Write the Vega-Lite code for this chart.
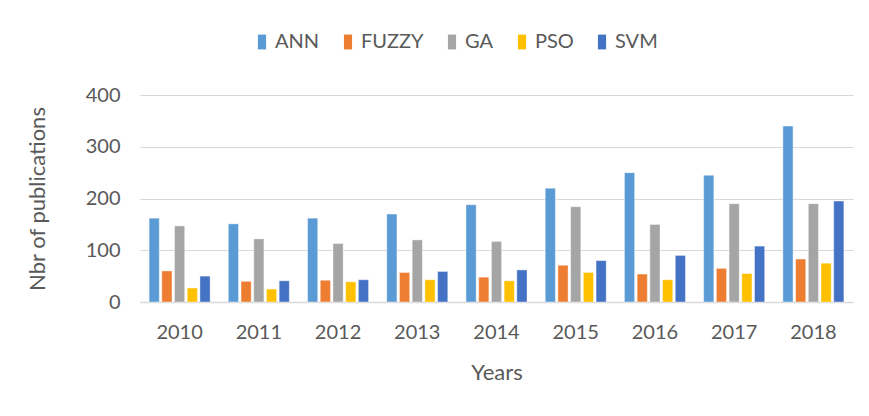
{
  "$schema": "https://vega.github.io/schema/vega-lite/v6.json",
  "width": 713,
  "height": 207,
  "autosize": {"type": "none"},
  "padding": {"left": 140, "top": 95, "right": 16, "bottom": 114},
  "background": "white",
  "config": {
    "view": {"stroke": null},
    "font": "Lato",
    "axis": {"labelColor": "#595959", "titleColor": "#595959", "labelFont": "Lato", "titleFont": "Lato", "titleFontWeight": "normal"},
    "legend": {"labelFont": "Lato", "labelColor": "#595959"}
  },
  "data": {
    "values": [
      {"year": "2010", "method": "ANN", "n": 162}, {"year": "2010", "method": "FUZZY", "n": 60}, {"year": "2010", "method": "GA", "n": 147}, {"year": "2010", "method": "PSO", "n": 27}, {"year": "2010", "method": "SVM", "n": 50},
      {"year": "2011", "method": "ANN", "n": 151}, {"year": "2011", "method": "FUZZY", "n": 40}, {"year": "2011", "method": "GA", "n": 122}, {"year": "2011", "method": "PSO", "n": 25}, {"year": "2011", "method": "SVM", "n": 41},
      {"year": "2012", "method": "ANN", "n": 162}, {"year": "2012", "method": "FUZZY", "n": 42}, {"year": "2012", "method": "GA", "n": 113}, {"year": "2012", "method": "PSO", "n": 39}, {"year": "2012", "method": "SVM", "n": 43},
      {"year": "2013", "method": "ANN", "n": 170}, {"year": "2013", "method": "FUZZY", "n": 57}, {"year": "2013", "method": "GA", "n": 120}, {"year": "2013", "method": "PSO", "n": 43}, {"year": "2013", "method": "SVM", "n": 59},
      {"year": "2014", "method": "ANN", "n": 188}, {"year": "2014", "method": "FUZZY", "n": 48}, {"year": "2014", "method": "GA", "n": 117}, {"year": "2014", "method": "PSO", "n": 41}, {"year": "2014", "method": "SVM", "n": 62},
      {"year": "2015", "method": "ANN", "n": 220}, {"year": "2015", "method": "FUZZY", "n": 71}, {"year": "2015", "method": "GA", "n": 184}, {"year": "2015", "method": "PSO", "n": 57}, {"year": "2015", "method": "SVM", "n": 80},
      {"year": "2016", "method": "ANN", "n": 250}, {"year": "2016", "method": "FUZZY", "n": 54}, {"year": "2016", "method": "GA", "n": 150}, {"year": "2016", "method": "PSO", "n": 43}, {"year": "2016", "method": "SVM", "n": 90},
      {"year": "2017", "method": "ANN", "n": 245}, {"year": "2017", "method": "FUZZY", "n": 65}, {"year": "2017", "method": "GA", "n": 190}, {"year": "2017", "method": "PSO", "n": 55}, {"year": "2017", "method": "SVM", "n": 108},
      {"year": "2018", "method": "ANN", "n": 340}, {"year": "2018", "method": "FUZZY", "n": 83}, {"year": "2018", "method": "GA", "n": 190}, {"year": "2018", "method": "PSO", "n": 75}, {"year": "2018", "method": "SVM", "n": 195}
    ]
  },
  "mark": {"type": "bar", "stroke": "white", "strokeOpacity": 0.5, "strokeWidth": 0.8},
  "encoding": {
    "x": {
      "field": "year", "type": "nominal", "sort": null,
      "scale": {"paddingInner": 0.23, "paddingOuter": 0.115},
      "axis": {"title": "Years", "labelAngle": 0, "labelFontSize": 20, "titleFontSize": 22, "ticks": false, "labelPadding": 20, "titlePadding": 20, "domainColor": "#d9d9d9", "domainWidth": 1.5}
    },
    "xOffset": {"field": "method", "type": "nominal", "scale": {"paddingInner": 0.2}},
    "y": {
      "field": "n", "type": "quantitative",
      "scale": {"domain": [0, 400]},
      "axis": {"title": "Nbr of publications", "values": [0, 100, 200, 300, 400], "labelFontSize": 20, "titleFontSize": 22, "ticks": false, "domain": false, "labelPadding": 20, "titlePadding": 36, "gridColor": "#d9d9d9", "gridWidth": 1.2}
    },
    "color": {
      "field": "method", "type": "nominal",
      "scale": {"domain": ["ANN", "FUZZY", "GA", "PSO", "SVM"], "range": ["#5b9bd5", "#ed7d31", "#a5a5a5", "#ffc000", "#4472c4"]},
      "legend": {"title": null, "orient": "none", "direction": "horizontal", "legendX": 112, "legendY": -63, "symbolType": "M-0.55,-1H0.55V1H-0.55Z", "symbolSize": 220, "symbolStrokeWidth": 0, "labelFontSize": 20, "columnPadding": 18, "labelOffset": 3}
    }
  }
}
